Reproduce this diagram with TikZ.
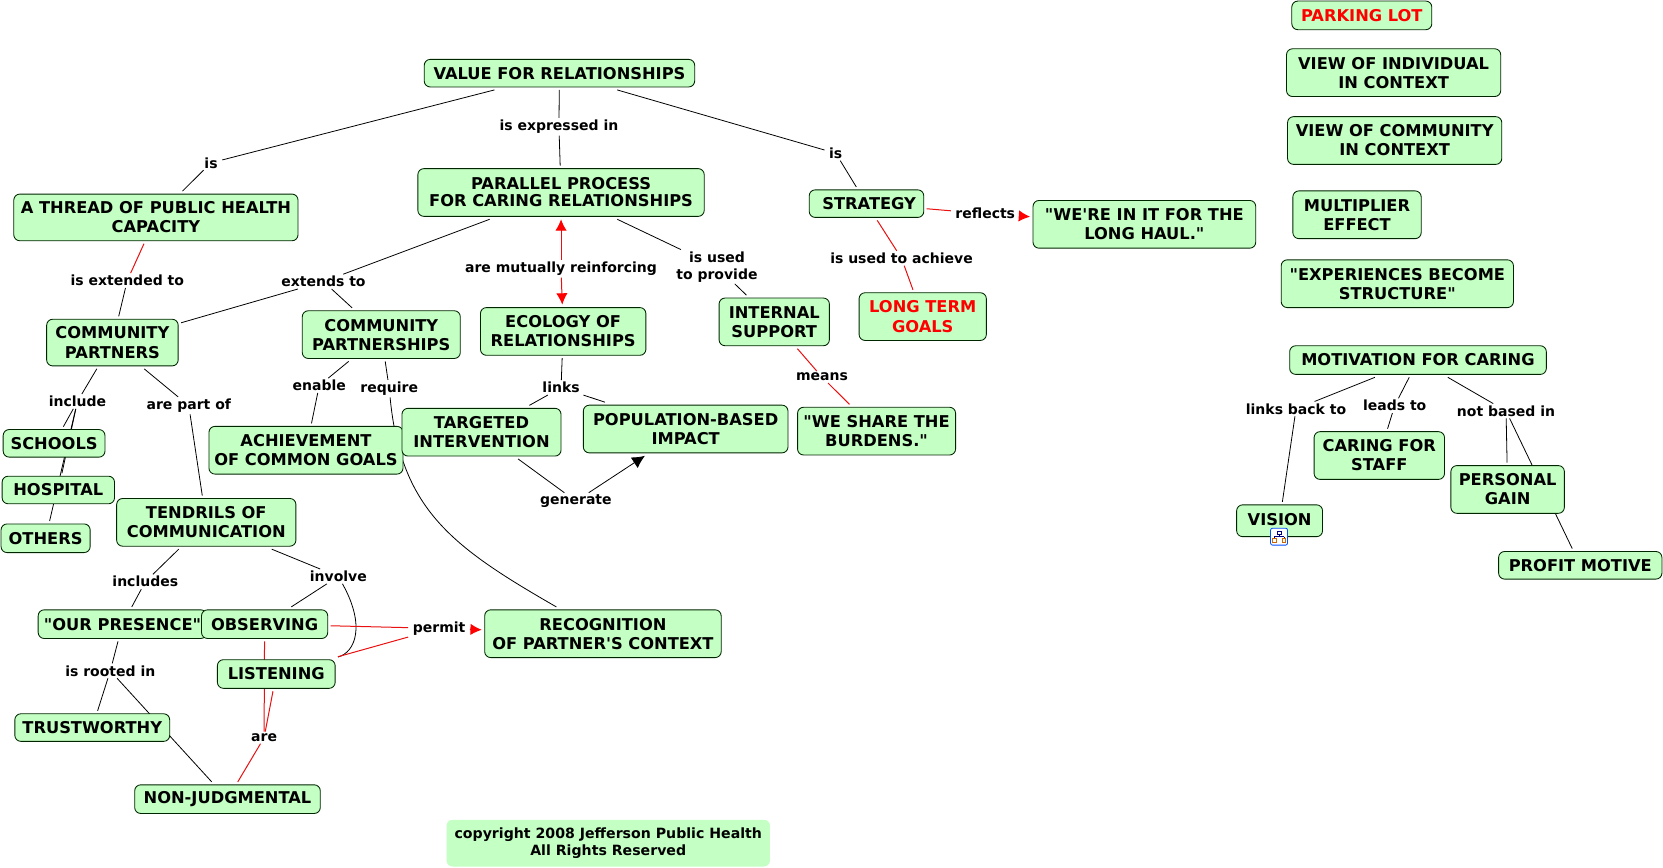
\documentclass[tikz,border=0pt]{standalone}
\usepackage{fontspec}
\setmainfont{DejaVu Sans}[Ligatures=TeXOff]
\usetikzlibrary{arrows.meta,backgrounds}
\definecolor{boxgreen}{HTML}{C4FFC4}
\definecolor{lred}{HTML}{E81010}
\newcommand{\bx}[7][]{\node[cbox,minimum width={(#4-#3)*0.7955pt},minimum height={(#6-#5)*0.7955pt},#1] (#2) at ({(#3+#4)/2},{(#5+#6)/2}) {#7};}
\newcommand{\lb}[4]{\node[clabel] (#1) at (#2,#3) {#4};}
\tikzset{
 cbox/.style={draw=black!85!green,fill=boxgreen,rounded corners=4.5pt,line width=0.65pt,inner sep=0pt,outer sep=2.2pt,align=center,font=\fontsize{12.2}{14.3}\selectfont\bfseries},
 clabel/.style={inner xsep=3.5pt,inner ysep=1.5pt,outer sep=0pt,yshift=-1.2pt,align=center,font=\fontsize{10.5}{12.6}\selectfont\bfseries},
 conn/.style={draw=black,line width=0.6pt},
 rconn/.style={draw=lred,line width=0.75pt},
 rarrow/.style={rconn,-{Latex[length=8.5pt,width=8.5pt,color=red]}},
 barrow/.style={conn,-{Latex[length=9.5pt,width=9.5pt]}}
}
\begin{document}
\begin{tikzpicture}[x=0.7955pt,y=-0.7955pt]
\useasboundingbox (0,0) rectangle (1568,818);
\bx{value}{400}{655}{56}{82}{VALUE FOR RELATIONSHIPS}
\bx{parallel}{394}{664}{159}{204}{\raisebox{0.6pt}{\shortstack{PARALLEL PROCESS\\FOR CARING RELATIONSHIPS}}}
\bx{thread}{13}{281}{183}{227}{A THREAD OF PUBLIC HEALTH\\CAPACITY}
\bx{strategy}{763}{871}{179}{205}{\hspace{4pt}STRATEGY}
\bx{haul}{974}{1184}{189}{234}{"WE'RE IN IT FOR THE\\LONG HAUL."}
\bx{cpartners}{44}{168}{301}{345}{COMMUNITY\\PARTNERS}
\bx{cships}{285}{434}{293}{338}{COMMUNITY\\PARTNERSHIPS}
\bx{ecology}{453}{609}{290}{335}{ECOLOGY OF\\RELATIONSHIPS}
\bx{internal}{678}{782}{281}{326}{INTERNAL\\SUPPORT}
\bx[text=red]{longterm}{810}{930}{276}{321}{LONG TERM\\GOALS}
\bx{achieve}{197}{380}{402}{447}{ACHIEVEMENT\\OF COMMON GOALS}
\bx{targeted}{379}{529}{385}{430}{TARGETED\\INTERVENTION}
\bx{population}{550}{743}{382}{427}{POPULATION-BASED\\IMPACT}
\bx{burdens}{752}{901}{384}{429}{"WE SHARE THE\\BURDENS."}
\bx{schools}{3}{99}{405}{431}{SCHOOLS}
\bx{hospital}{2}{108}{449}{475}{HOSPITAL}
\bx{others}{1}{85}{494}{521}{OTHERS}
\bx{tendrils}{110}{279}{470}{515}{TENDRILS OF\\COMMUNICATION}
\bx{presence}{36}{195}{575}{602}{"OUR PRESENCE"}
\bx{observing}{190}{309}{575}{602}{OBSERVING}
\bx{listening}{205}{316}{622}{649}{LISTENING}
\bx{recognition}{457}{680}{575}{620}{RECOGNITION\\OF PARTNER'S CONTEXT}
\bx{trust}{14}{160}{673}{699}{\raisebox{-0.6pt}{TRUSTWORTHY}}
\bx{nonjudg}{127}{302}{740}{767}{\raisebox{-1pt}{NON-JUDGMENTAL}}
\bx[draw=none,font=\fontsize{10.6}{12.6}\selectfont\bfseries]{copyr}{421}{726}{773}{817}{copyright 2008 Jefferson Public Health\\All Rights Reserved}
\bx[text=red]{parking}{1218}{1350}{1}{28}{PARKING LOT}
\bx{viewind}{1213}{1415}{46}{91}{VIEW OF INDIVIDUAL\\IN CONTEXT}
\bx{viewcom}{1214}{1416}{110}{155}{VIEW OF COMMUNITY\\IN CONTEXT}
\bx{multiplier}{1219}{1340}{180}{225}{MULTIPLIER\\EFFECT}
\bx{experiences}{1208}{1427}{245}{290}{"EXPERIENCES BECOME\\STRUCTURE"}
\bx{motivation}{1216}{1458}{326}{353}{MOTIVATION FOR CARING}
\bx{staff}{1239}{1362}{407}{452}{CARING FOR\\STAFF}
\bx{personal}{1368}{1475}{439}{484}{PERSONAL\\GAIN}
\bx{vision}{1166}{1247}{476}{506}{\raisebox{2pt}{VISION}}
\bx{profit}{1413}{1567}{520}{546}{PROFIT MOTIVE}
% link labels
\lb{isa}{199}{152}{is}
\lb{isexp}{527}{118}{is expressed in}
\lb{isb}{788}{143}{is}
\lb{isext}{120}{263}{is extended to}
\lb{extends}{305}{264}{extends to}
\lb{mutual}{529}{252}{are mutually reinforcing}
\lb{used}{676}{250}{is used\\to provide}
\lb{reflects}{929}{200}{reflects}
\lb{achievelb}{850}{242}{is used to achieve}
\lb{means}{775}{354}{means}
\lb{include}{73}{377}{include}
\lb{partof}{178}{381}{are part of}
\lb{enable}{301}{362}{enable}
\lb{require}{367}{365}{require}
\lb{links}{529}{364}{links}
\lb{generate}{543}{471}{generate}
\lb{includes}{137}{547}{includes}
\lb{involve}{319}{542}{involve}
\lb{permit}{414}{591}{permit}
\lb{rooted}{104}{631}{is rooted in}
\lb{are}{249}{694}{are}
\lb{backto}{1222}{384}{links back to}
\lb{leads}{1315}{381}{leads to}
\lb{notbased}{1420}{386}{not based in}
% connectors
\begin{scope}[on background layer]
\draw[conn] (value) -- (isa);
\draw[conn] (isa) -- (thread);
\draw[conn] (value) -- (isexp);
\draw[conn] (isexp) -- (parallel);
\draw[conn] (value) -- (isb);
\draw[conn] (isb) -- (strategy);
\draw[rconn] (thread) -- (isext);
\draw[conn] (isext) -- (cpartners);
\draw[conn] (parallel) -- (extends);
\draw[conn] (extends) -- (cpartners);
\draw[conn] (extends) -- (cships);
\draw[rarrow] (mutual) -- (parallel);
\draw[rarrow] (mutual) -- (ecology);
\draw[conn] (parallel) -- (used);
\draw[conn] (used) -- (internal);
\draw[rconn] (strategy) -- (reflects);
\draw[rarrow] (reflects) -- (haul);
\draw[rconn] (strategy) -- (achievelb);
\draw[rconn] (achievelb) -- (longterm);
\draw[rconn] (internal) -- (means);
\draw[rconn] (means) -- (burdens);
\draw[conn] (cpartners) -- (include);
\draw[conn] (include) -- (schools);
\draw[conn] (include) -- (hospital);
\draw[conn] (include) -- (others);
\draw[conn] (cpartners) -- (partof);
\draw[conn] (partof) -- (tendrils);
\draw[conn] (cships) -- (enable);
\draw[conn] (enable) -- (achieve);
\draw[conn] (cships) -- (require);
\draw[conn] (require) .. controls (378,480) and (425,515) .. (recognition);
\draw[conn] (ecology) -- (links);
\draw[conn] (links) -- (targeted);
\draw[conn] (links) -- (population);
\draw[conn] (targeted) -- (generate);
\draw[barrow] (generate) -- (population);
\draw[conn] (tendrils) -- (includes);
\draw[conn] (includes) -- (presence);
\draw[conn] (tendrils) -- (involve);
\draw[conn] (involve) -- (observing);
\draw[conn] (involve) .. controls (345,590) and (335,615) .. (listening);
\draw[rconn] (observing) -- (permit);
\draw[rconn] (listening) -- (permit);
\draw[rarrow] (permit) -- (recognition);
\draw[conn] (presence) -- (rooted);
\draw[conn] (rooted) -- (trust);
\draw[conn] (rooted) -- (nonjudg);
\draw[rconn] (observing) -- (are);
\draw[rconn] (listening) -- (are);
\draw[rconn] (are) -- (nonjudg);
\draw[conn] (motivation) -- (backto);
\draw[conn] (backto) -- (vision);
\draw[conn] (motivation) -- (leads);
\draw[conn] (leads) -- (staff);
\draw[conn] (motivation) -- (notbased);
\draw[conn] (notbased) -- (personal);
\draw[conn] (notbased) -- (profit);
\end{scope}
% concept-map icon on VISION
\draw[fill=white,draw=blue!70!cyan,rounded corners=1.5pt,line width=0.6pt] (1198,498) rectangle (1214,514);
\draw[draw=blue!50!black,line width=0.5pt] (1204,501) rectangle (1208,504) (1206,504)--(1206,506) (1201.5,506)--(1210.5,506) (1201.5,506)--(1201.5,508) (1210.5,506)--(1210.5,508);
\draw[draw=orange!80!black,line width=0.5pt] (1200,508) rectangle (1203,511) (1209,508) rectangle (1212,511);
\end{tikzpicture}
\end{document}
